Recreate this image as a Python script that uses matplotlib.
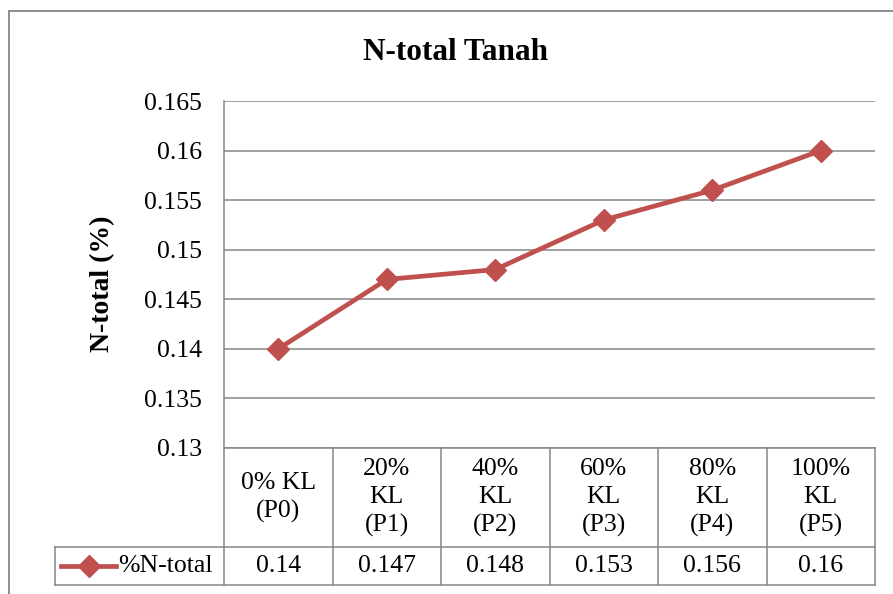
import matplotlib
import numpy as np

matplotlib.use("Agg")
import matplotlib.pyplot as plt
from matplotlib.patches import Rectangle

# data
categories = ["0% KL\n(P0)", "20%\nKL\n(P1)", "40%\nKL\n(P2)",
              "60%\nKL\n(P3)", "80%\nKL\n(P4)", "100%\nKL\n(P5)"]
n_total = [0.14, 0.147, 0.148, 0.153, 0.156, 0.16]
series_name = "%N-total"
y_ticks = [0.13, 0.135, 0.14, 0.145, 0.15, 0.155, 0.16, 0.165]

RED = "#C0504D"
GRID = "#868686"
FONT = "Liberation Serif"
FS = 18.5

plt.rcParams["font.family"] = [FONT, "DejaVu Serif"]

W, H = 893, 594
fig = plt.figure(figsize=(W / 100, H / 100), dpi=100)

# plot area in pixel coordinates
left, right, top, bottom = 224, 875, 101, 448
ax = fig.add_axes([left / W, 1 - bottom / H, (right - left) / W, (bottom - top) / H])

x = np.arange(len(categories))
ax.plot(x, n_total, color=RED, lw=3.4, marker="D", ms=11, mfc=RED, mec=RED,
        solid_capstyle="round", zorder=5)

ax.set_xlim(-0.5, len(categories) - 0.5)
ax.set_ylim(y_ticks[0], y_ticks[-1])
ax.set_yticks(y_ticks)
ax.set_yticklabels([f"{v:g}" for v in y_ticks], fontsize=FS)
ax.tick_params(axis="y", length=0, pad=16)
ax.set_xticks([])
ax.yaxis.grid(True, color=GRID, lw=1.1)
ax.set_axisbelow(True)
for s in ["top", "right", "bottom"]:
    ax.spines[s].set_visible(False)
ax.spines["left"].set_color(GRID)
ax.spines["left"].set_linewidth(1.1)

fig.text(456 / W, 1 - 53 / H, "N-total Tanah", fontsize=22.5, fontweight="bold",
         ha="center", va="center")
fig.text(103 / W, 1 - 284 / H, "N-total (%)", fontsize=20, fontweight="bold",
         ha="center", va="center", rotation=90)

# data table below the axes (x in data units, y in axes fraction)
tr = ax.get_xaxis_transform()
ph = bottom - top
y_hdr = (bottom - 547) / ph
y_val = (bottom - 585) / ph
x_leg = -0.5 + (55 - left) / (right - left) * len(categories)
x_end = len(categories) - 0.5
lkw = dict(color=GRID, lw=1.1, transform=tr, clip_on=False)

ax.plot([-0.5, x_end], [0, 0], **lkw)
ax.plot([x_leg, x_end], [y_hdr, y_hdr], **lkw)
ax.plot([x_leg, x_end], [y_val, y_val], **lkw)
ax.plot([x_leg, x_leg], [y_hdr, y_val], **lkw)
for k in range(len(categories) + 1):
    ax.plot([k - 0.5, k - 0.5], [0, y_val], **lkw)

for i, (cat, v) in enumerate(zip(categories, n_total)):
    ax.text(i, y_hdr / 2, cat, transform=tr, ha="center", va="center",
            multialignment="center", fontsize=FS, linespacing=1.32)
    ax.text(i, (y_hdr + y_val) / 2, f"{v:g}", transform=tr, ha="center",
            va="center", fontsize=FS)

# legend key inside the table
scale = len(categories) / (right - left)
lx0 = -0.5 + (61 - left) * scale
lx1 = -0.5 + (116 - left) * scale
ly = (y_hdr + y_val) / 2
ax.plot([lx0, lx1], [ly, ly], color=RED, lw=3.4, transform=tr, clip_on=False)
ax.plot([(lx0 + lx1) / 2], [ly], marker="D", ms=11, color=RED, transform=tr,
        clip_on=False)
ax.text(-0.5 + (118 - left) * scale, ly, series_name, transform=tr, ha="left",
        va="center", fontsize=FS)

# outer chart border
fig.add_artist(Rectangle((9 / W, -0.1), 2, 1 - 11 / H + 0.1, transform=fig.transFigure,
                         fill=False, ec=GRID, lw=1.3, clip_on=False))

fig.savefig("out.png", dpi=100)
